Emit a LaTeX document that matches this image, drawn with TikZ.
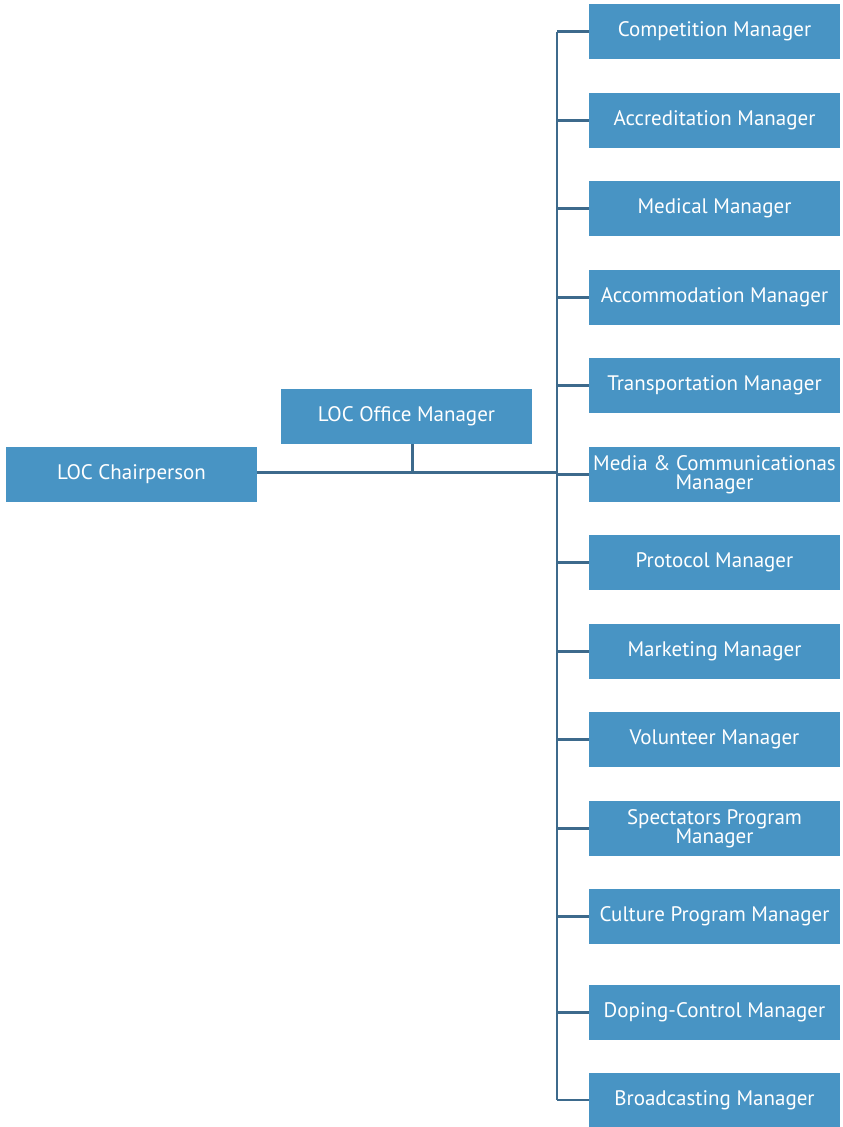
\documentclass[tikz,border=0pt]{standalone}
\usepackage{fontspec}
\setmainfont{PT Sans}
\definecolor{boxblue}{HTML}{4894C4}
\definecolor{lineblue}{HTML}{3D6A8C}
\tikzset{
  orgbox/.style={fill=boxblue, text=white, minimum width=251pt, minimum height=55pt,
    inner sep=0pt, align=center, font=\fontsize{21}{19.5}\selectfont},
  orgline/.style={draw=lineblue, line width=2.6pt}
}
\begin{document}
\begin{tikzpicture}[x=1pt, y=-1pt]
\useasboundingbox (0,0) rectangle (843,1127);
% Jefes
\node[orgbox] (chair) at (131.5,474.5) {LOC Chairperson};
\node[orgbox] (office) at (406.5,416.5) {LOC Office Manager};
% Gerentes
\foreach \i/\y/\txt in {
  1/31.5/Competition Manager,
  2/120.5/Accreditation Manager,
  3/208.5/Medical Manager,
  4/297.5/Accommodation Manager,
  5/385.5/Transportation Manager,
  6/474.5/{Media \& Communicationas\\Manager},
  7/562.5/Protocol Manager,
  8/651.5/Marketing Manager,
  9/739.5/Volunteer Manager,
  10/828.5/{Spectators Program\\Manager},
  11/916.5/Culture Program Manager,
  12/1012.5/Doping-Control Manager,
  13/1100/Broadcasting Manager}
  \node[orgbox] (m\i) at (714.5,\y) {\txt};
% Tronco
\coordinate (trunk) at (557,0);
\coordinate (stub) at ([xshift=6pt]office.south);
\draw[orgline] (trunk |- m1.west) -- (trunk |- m13.west);
\foreach \i in {1,...,13}
  \draw[orgline] (trunk |- m\i.west) -- (m\i.west);
% Enlaces
\draw[orgline] ([yshift=2pt]chair.east) -- ([yshift=2pt]trunk |- chair.east);
\draw[orgline] (stub) -- ([yshift=2pt]stub |- chair.east);
\end{tikzpicture}
\end{document}
